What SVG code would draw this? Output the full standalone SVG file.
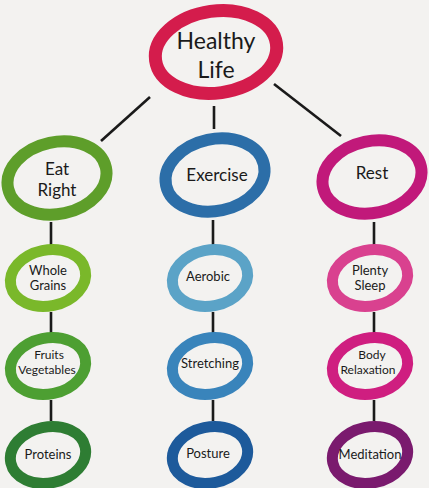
<svg xmlns="http://www.w3.org/2000/svg" width="429" height="488" viewBox="0 0 429 488">
<style>
.bg{fill:#f3f2f0}
.ring{fill:none}
.c line{stroke:#1a1a1a;stroke-width:2.6;stroke-linecap:butt}
text{font-family:Lato,"Open Sans","DejaVu Sans",sans-serif;fill:#1a1a1a;text-anchor:middle}
.t1{font-size:23px}
.t2{font-size:17px}
.t3{font-size:13px}
.t3s{font-size:12px}
</style>
<rect class="bg" width="429" height="488"/>
<g class="c" id="connectors">
<line x1="150" y1="97" x2="101" y2="141"/>
<line x1="214" y1="106" x2="214" y2="129"/>
<line x1="274" y1="84" x2="341" y2="136"/>
<line x1="51" y1="222" x2="51" y2="247"/>
<line x1="213" y1="220" x2="213" y2="247"/>
<line x1="374" y1="222" x2="374" y2="247"/>
<line x1="51" y1="312" x2="51" y2="333"/>
<line x1="213" y1="312" x2="213" y2="333"/>
<line x1="374" y1="312" x2="374" y2="333"/>
<line x1="51" y1="400" x2="51" y2="421"/>
<line x1="213" y1="400" x2="213" y2="421"/>
<line x1="374" y1="400" x2="374" y2="421"/>
</g>
<g id="healthy-life">
<ellipse class="ring" cx="216" cy="52" rx="61" ry="41" stroke="#d41c4c" stroke-width="13" transform="rotate(-8 216 52)"/>
<text class="t1" x="216" y="49">Healthy</text>
<text class="t1" x="216" y="78">Life</text>
</g>
<g id="eat-right">
<ellipse class="ring" cx="57" cy="178" rx="50" ry="36" stroke="#5e9e2a" stroke-width="12" transform="rotate(-12 57 178)"/>
<text class="t2" x="57" y="175">Eat</text>
<text class="t2" x="57" y="196">Right</text>
</g>
<g id="exercise">
<ellipse class="ring" cx="215" cy="175" rx="50" ry="36" stroke="#2c6ea8" stroke-width="12" transform="rotate(-12 215 175)"/>
<text class="t2" x="217" y="181">Exercise</text>
</g>
<g id="rest">
<ellipse class="ring" cx="372" cy="177" rx="50" ry="36" stroke="#c1197a" stroke-width="12" transform="rotate(-12 372 177)"/>
<text class="t2" x="372" y="179">Rest</text>
</g>
<g id="whole-grains">
<ellipse class="ring" cx="48" cy="278" rx="38" ry="28" stroke="#7ab82a" stroke-width="11" transform="rotate(-12 48 278)"/>
<text class="t3" x="48" y="275">Whole</text>
<text class="t3" x="48" y="290">Grains</text>
</g>
<g id="aerobic">
<ellipse class="ring" cx="210" cy="278" rx="38" ry="28" stroke="#5ba3c7" stroke-width="11" transform="rotate(-12 210 278)"/>
<text class="t3" x="208" y="281">Aerobic</text>
</g>
<g id="plenty-sleep">
<ellipse class="ring" cx="370" cy="278" rx="38" ry="28" stroke="#d9418f" stroke-width="11" transform="rotate(-12 370 278)"/>
<text class="t3" x="370" y="275">Plenty</text>
<text class="t3" x="370" y="290">Sleep</text>
</g>
<g id="fruits-vegetables">
<ellipse class="ring" cx="48" cy="366" rx="38" ry="28" stroke="#4d9f32" stroke-width="11" transform="rotate(-12 48 366)"/>
<text class="t3s" x="49" y="359">Fruits</text>
<text class="t3s" x="47" y="374">Vegetables</text>
</g>
<g id="stretching">
<ellipse class="ring" cx="210" cy="366" rx="38" ry="28" stroke="#3984bb" stroke-width="11" transform="rotate(-12 210 366)"/>
<text class="t3" x="210" y="368">Stretching</text>
</g>
<g id="body-relaxation">
<ellipse class="ring" cx="370" cy="366" rx="38" ry="28" stroke="#cf1e80" stroke-width="11" transform="rotate(-12 370 366)"/>
<text class="t3s" x="372" y="359">Body</text>
<text class="t3s" x="368" y="374">Relaxation</text>
</g>
<g id="proteins">
<ellipse class="ring" cx="48" cy="455" rx="38" ry="28" stroke="#2e7d33" stroke-width="11" transform="rotate(-12 48 455)"/>
<text class="t3" x="48" y="459">Proteins</text>
</g>
<g id="posture">
<ellipse class="ring" cx="210" cy="455" rx="38" ry="28" stroke="#1d5a9b" stroke-width="11" transform="rotate(-12 210 455)"/>
<text class="t3" x="208" y="458">Posture</text>
</g>
<g id="meditation">
<ellipse class="ring" cx="370" cy="455" rx="38" ry="28" stroke="#7a1a6e" stroke-width="11" transform="rotate(-12 370 455)"/>
<text class="t3" x="370" y="459">Meditation</text>
</g>
</svg>
